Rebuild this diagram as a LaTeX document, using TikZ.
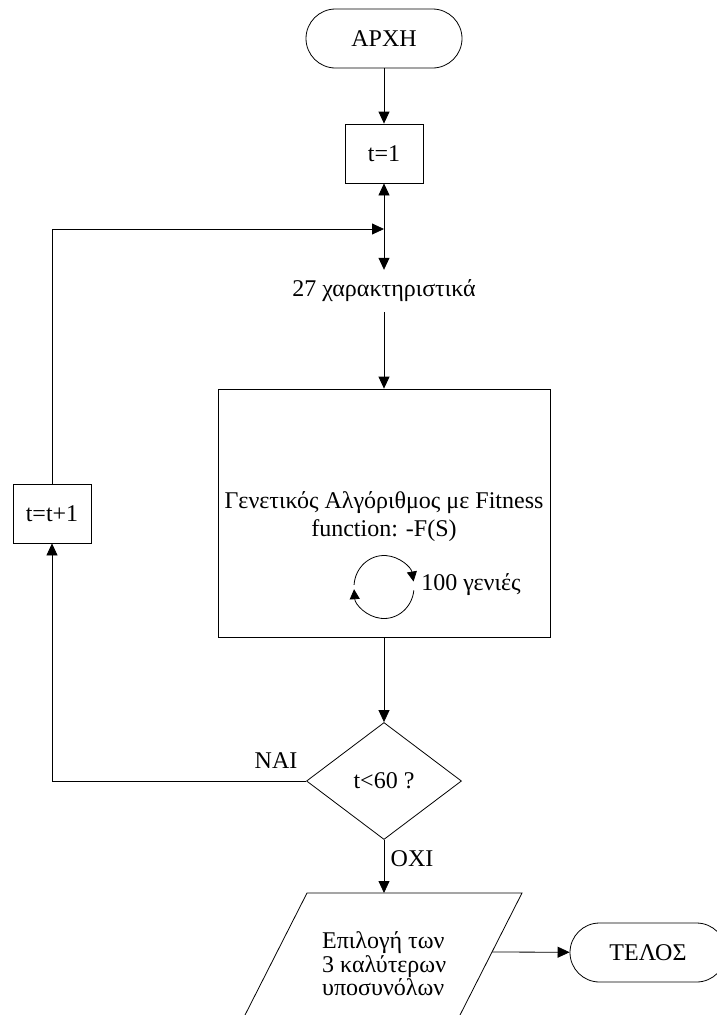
\documentclass[tikz,border=0pt]{standalone}
\usepackage{fontspec}
\setmainfont{Liberation Serif}
\usetikzlibrary{shapes.geometric,arrows.meta}
\begin{document}
\begin{tikzpicture}[x=1pt,y=-1pt,
  every node/.style={font=\fontsize{24}{28}\selectfont, inner sep=0pt},
  line/.style={draw=black, line width=0.8pt},
  arr/.style={line, -{Triangle[length=12pt,width=11pt]}},
  looparr/.style={line, -{Triangle[length=10pt,width=10pt]}},
  box/.style={draw=black, line width=0.8pt, rectangle},
  term/.style={draw=black, line width=0.8pt, rectangle, rounded corners=29.5pt,
               minimum width=156pt, minimum height=59pt},
  decision/.style={draw=black, line width=0.8pt, diamond,
                   minimum width=155pt, minimum height=117pt}]
  \useasboundingbox (0,0) rectangle (717,1015);
  \clip (0,0) rectangle (717,1015);

  % main column
  \node[term] (start) at (384,38.5) {ΑΡΧΗ};
  \node[box, minimum width=78pt, minimum height=59pt] (t1) at (384,153.5) {t=1};
  \coordinate (J) at (384,229);
  \node[minimum height=42pt] (feat) at (384,291) {27 χαρακτηριστικά};
  \node[box, minimum width=332pt, minimum height=248pt] (ga) at (384,513) {};
  \node[align=center] (gatext) at (384,517) {Γενετικός Αλγόριθμος με Fitness\\function: -F(S)};
  \node (gen) at (471,585) {100 γενιές};
  \node[decision] (cond) at (384,781) {t<60 ?};

  % loop-back branch
  \node[box, minimum width=78pt, minimum height=59pt] (inc) at (52,513.5) {t=t+1};
  \node (nai) at (276,761) {ΝΑΙ};
  \node (oxi) at (412,859) {ΟΧΙ};

  % output parallelogram and end
  \draw[line] (307,893) -- (522,893) -- (458.5,1018) -- (243.5,1018) -- cycle;
  \coordinate (ptop) at (384,893);
  \coordinate (pright) at (492,952);
  \node[align=left, anchor=west, font=\fontsize{24}{23.5}\selectfont] (sel) at (322,964)
    {Επιλογή των\\3 καλύτερων\\υποσυνόλων};
  \node[term] (end) at (648,952.5) {ΤΕΛΟΣ};

  % generations loop symbol
  \coordinate (lc) at (384,587);
  \draw[looparr] (lc) ++(184:30 and 31.5) arc[start angle=184, end angle=350, x radius=30, y radius=31.5];
  \draw[looparr] (lc) ++(6:30 and 31.5) arc[start angle=6, end angle=176, x radius=30, y radius=31.5];

  % connectors
  \draw[arr] (start) -- (t1);
  \draw[arr] (J) -- (t1);
  \draw[arr] (J) -- (feat);
  \draw[arr] (feat) -- (ga);
  \draw[arr] (ga) -- (cond);
  \draw[arr] (cond.west) -| (inc.south);
  \draw[arr] (inc.north) |- (J);
  \draw[arr] (cond) -- (ptop);
  \draw[arr] (pright) -- (end);
\end{tikzpicture}
\end{document}
